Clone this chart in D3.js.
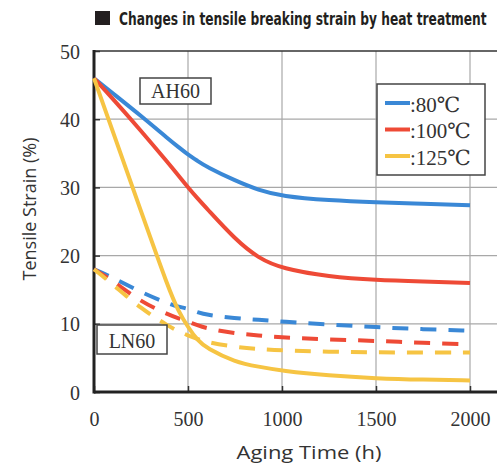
<!DOCTYPE html>
<html>
<head>
<meta charset="utf-8">
<title>Tensile breaking strain</title>
<script src="https://cdn.jsdelivr.net/npm/d3@7/dist/d3.min.js"></script>
<style>
  body { margin: 0; background: #fff; }
  svg { display: block; }
  .serif { font-family: "Liberation Serif", "DejaVu Serif", serif; fill: #333; }
  .sans { font-family: "Open Sans", "Noto Sans", sans-serif; fill: #333; }
</style>
</head>
<body>
<div id="chart"></div>
<script>
// hours on the x axis
const hours = [0, 100, 250, 400, 450, 500, 550, 600, 750, 875, 1000, 1250, 1500, 1750, 2000];
// AH60 (solid)
const ah80 = [46, 43.8, 40.5, 37, 35.9, 34.8, 33.9, 33.0, 31.0, 29.6, 28.7, 28.1, 27.8, 27.6, 27.4];
const ah100 = [46, 43, 38.3, 33.4, 31.7, 30.0, 28.4, 26.9, 22.4, 19.6, 18.1, 16.9, 16.4, 16.2, 16.0];
const ah125 = [46, 38.2, 26.5, 14.9, 11.8, 9.5, 7.6, 6.4, 4.4, 3.7, 3.1, 2.4, 2.0, 1.8, 1.7];
// LN60 (dashed)
const ln80 = [18, 16.8, 14.6, 12.9, 12.5, 12.2, 11.7, 11.3, 10.8, 10.6, 10.3, 9.9, 9.5, 9.2, 9.0];
const ln100 = [18, 16.3, 13.2, 11.3, 10.8, 10.3, 9.8, 9.3, 8.6, 8.3, 8.0, 7.7, 7.5, 7.2, 7.0];
const ln125 = [18, 15.8, 12.2, 9.6, 8.9, 8.3, 7.8, 7.3, 6.6, 6.3, 6.1, 5.9, 5.8, 5.8, 5.8];

const xTicks = [0, 500, 1000, 1500, 2000];
const yTicks = [0, 10, 20, 30, 40, 50];
const legendLabels = [':80\u2103', ':100\u2103', ':125\u2103'];
const colors = ['#3a88d6', '#ee4a36', '#f6c443'];

const W = 497, H = 466;
const svg = d3.select('#chart').append('svg').attr('width', W).attr('height', H);

const x = d3.scaleLinear().domain([0, 2000]).range([94, 470]);
const y = d3.scaleLinear().domain([0, 50]).range([392, 51]);
const right = 497;

// title, squeezed to the reference width
svg.append('rect').attr('x', 95).attr('y', 11).attr('width', 15).attr('height', 14).attr('fill', '#231f20');
const title = svg.append('text')
  .style('font-family', '"Liberation Sans Narrow", "DejaVu Sans Condensed", sans-serif')
  .style('font-weight', 'bold').style('font-size', '18px').style('fill', '#231f20')
  .text('Changes in tensile breaking strain by heat treatment');
const tw = title.node().getComputedTextLength();
title.attr('transform', `translate(119,24.5) scale(${368 / tw},1)`);

// grid
const grid = svg.append('g').attr('stroke', '#a8a8a8').attr('stroke-width', 1.2);
grid.selectAll('.hg').data(yTicks.filter(d => d > 0 && d < 50)).enter().append('line')
  .attr('x1', x(0)).attr('x2', right).attr('y1', d => y(d)).attr('y2', d => y(d));
grid.selectAll('.vg').data(xTicks.filter(d => d > 0)).enter().append('line')
  .attr('x1', d => x(d)).attr('x2', d => x(d)).attr('y1', y(50)).attr('y2', y(0));

// axes
const yAxis = svg.append('g').attr('transform', `translate(${x(0)},0)`)
  .call(d3.axisLeft(y).tickValues(yTicks).tickSize(-6).tickPadding(14));
const xAxis = svg.append('g').attr('transform', `translate(0,${y(0)})`)
  .call(d3.axisBottom(x).tickValues(xTicks).tickFormat(d3.format('d')).tickSize(-6).tickPadding(20));
[yAxis, xAxis].forEach(a => {
  a.select('.domain').remove();
  a.selectAll('line').attr('stroke', '#333').attr('stroke-width', 1.5);
  a.selectAll('text').attr('class', 'serif').style('font-size', '20px').attr('fill', '#333');
});
yAxis.selectAll('text').attr('dy', '0.35em');

// frame
svg.append('line').attr('x1', x(0)).attr('x2', right).attr('y1', y(50)).attr('y2', y(50))
  .attr('stroke', '#333').attr('stroke-width', 1.6);
svg.append('line').attr('x1', x(0)).attr('x2', right).attr('y1', y(0)).attr('y2', y(0))
  .attr('stroke', '#222').attr('stroke-width', 3);
svg.append('line').attr('x1', x(0)).attr('x2', x(0)).attr('y1', y(50) - 1).attr('y2', y(0) + 1.5)
  .attr('stroke', '#222').attr('stroke-width', 3);

// curves (smoothed)
const line = d3.line().x((d, i) => x(hours[i])).y(d => y(d)).curve(d3.curveBasis);
const series = [
  { v: ln80, c: colors[0], dash: true },
  { v: ln100, c: colors[1], dash: true },
  { v: ln125, c: colors[2], dash: true },
  { v: ah80, c: colors[0], dash: false },
  { v: ah100, c: colors[1], dash: false },
  { v: ah125, c: colors[2], dash: false },
];
svg.append('g').selectAll('path').data(series).enter().append('path')
  .attr('d', d => line(d.v))
  .attr('fill', 'none')
  .attr('stroke', d => d.c)
  .attr('stroke-width', 4)
  .attr('stroke-dasharray', d => d.dash ? '16,12' : null);

// sample labels
function tag(cx, y0, w, h, label) {
  svg.append('rect').attr('x', cx - w / 2).attr('y', y0).attr('width', w).attr('height', h)
    .attr('fill', '#fff').attr('stroke', '#444').attr('stroke-width', 1.5);
  svg.append('text').attr('class', 'serif').attr('x', cx).attr('y', y0 + h - 6)
    .attr('text-anchor', 'middle').style('font-size', '20px').text(label);
}
tag(175.5, 78, 71, 26, 'AH60');
tag(132, 325, 70, 29, 'LN60');

// legend
const lg = svg.append('g');
lg.append('rect').attr('x', 377).attr('y', 84).attr('width', 108).attr('height', 91)
  .attr('fill', '#fff').attr('stroke', '#444').attr('stroke-width', 1.5);
legendLabels.forEach((t, i) => {
  const ly = 103 + i * 26.5;
  lg.append('line').attr('x1', 385).attr('x2', 410).attr('y1', ly).attr('y2', ly)
    .attr('stroke', colors[i]).attr('stroke-width', 4);
  lg.append('text').attr('class', 'serif').attr('x', 410).attr('y', ly + 8.5)
    .style('font-size', '21px').text(t);
});

// axis titles
svg.append('text').attr('class', 'sans')
  .attr('transform', 'translate(36,209) rotate(-90)')
  .attr('text-anchor', 'middle').style('font-size', '19px')
  .attr('textLength', 143).attr('lengthAdjust', 'spacingAndGlyphs')
  .text('Tensile Strain (%)');
svg.append('text').attr('class', 'sans')
  .attr('x', 309).attr('y', 459)
  .attr('text-anchor', 'middle').style('font-size', '19px')
  .attr('textLength', 145).attr('lengthAdjust', 'spacingAndGlyphs')
  .text('Aging Time (h)');
</script>
</body>
</html>
